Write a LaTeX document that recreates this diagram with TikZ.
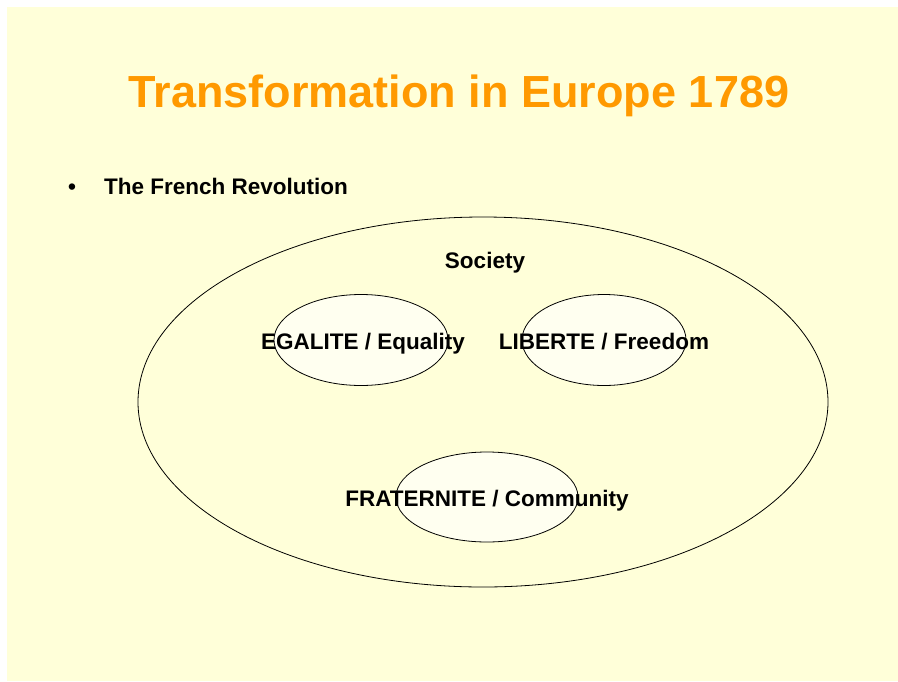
\documentclass[tikz,border=0pt]{standalone}
\usepackage{fontspec}
\setmainfont{Liberation Sans}
\usetikzlibrary{shapes.geometric}

\definecolor{slidebg}{HTML}{FFFFD9}
\definecolor{ovalfill}{HTML}{FFFFF0}
\definecolor{titleorange}{HTML}{FF9900}

\tikzset{
  oval/.style={ellipse, draw=black, line width=0.8pt, fill=ovalfill, inner sep=0pt},
  slidetext/.style={font=\fontsize{22.5}{27}\selectfont\bfseries, inner sep=0pt, anchor=base}
}

\begin{document}
\begin{tikzpicture}[x=1pt, y=-1pt]
    % Slide
    \useasboundingbox (0,0) rectangle (898,681);
    \fill[white] (0,0) rectangle (898,681);
    \fill[slidebg] (7,7) rectangle (898,681);

    % Title and bullet
    \node[slidetext, font=\fontsize{45}{54}\selectfont\bfseries, text=titleorange] (title) at (459,107) {Transformation in Europe 1789};
    \node[slidetext] (bullet) at (72,194) {\textbullet};
    \node[slidetext, anchor=base west] (topic) at (104,194) {The French Revolution};

    % Ovals
    \node[oval, fill=slidebg, minimum width=690, minimum height=370] (society) at (483,402) {};
    \node[oval, minimum width=174, minimum height=91] (egalite) at (361,340) {};
    \node[oval, minimum width=164, minimum height=91] (liberte) at (604,340) {};
    \node[oval, minimum width=182, minimum height=90] (fraternite) at (487,497) {};

    % Labels
    \node[slidetext] (societytext) at (485,268) {Society};
    \node[slidetext] (egalitetext) at (363,349) {EGALITE / Equality};
    \node[slidetext] (libertetext) at (604,349) {LIBERTE / Freedom};
    \node[slidetext] (fraternitetext) at (487,506) {FRATERNITE / Community};
\end{tikzpicture}
\end{document}
